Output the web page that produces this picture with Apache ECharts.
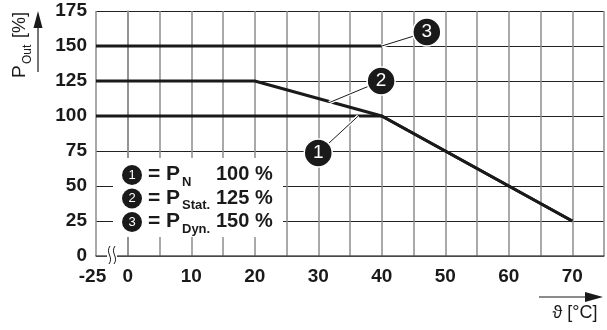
<!DOCTYPE html>
<html>
<head>
<meta charset="utf-8">
<script src="https://cdn.jsdelivr.net/npm/echarts@6/dist/echarts.min.js"></script>
<style>
html,body{margin:0;padding:0;background:#fff;}
#c{width:607px;height:330px;}
</style>
</head>
<body>
<div id="c"></div>
<script>
// ---- data ----
const yTicks = [0, 25, 50, 75, 100, 125, 150, 175];
const xTickLabels = ['-25', '0', '10', '20', '30', '40', '50', '60', '70'];
const curveN    = [[-25, 100], [40, 100], [70, 25]];          // 1 = P_N 100 %
const curveStat = [[-25, 125], [20, 125], [40, 100], [70, 25]]; // 2 = P_Stat. 125 %
const curveDyn  = [[-25, 150], [40, 150]];                     // 3 = P_Dyn. 150 %
const calloutIds   = ['1', '2', '3'];
const calloutLabel = [[30.0, 73.6], [39.9, 125], [47.1, 160]];
const calloutPoint = [[36.3, 100], [31.7, 109.5], [40, 150]];
const legendNums = ['1', '2', '3'];
const legendSubs = ['N', 'Stat.', 'Dyn.'];
const legendPcts = ['100 %', '125 %', '150 %'];

// broken x axis: everything below 0 is drawn at the break position -5 (labelled -25)
const BREAK_POS = -5;
const ax = v => (v < 0 ? BREAK_POS : v);
const toAxis = arr => arr.map(p => [ax(p[0]), p[1]]);

const chart = echarts.init(document.getElementById('c'), null, {renderer: 'canvas'});
const FONT = '"Liberation Sans", Arial, Helvetica, sans-serif';
const INK = '#1a1a1a';

const lineSeries = (data) => ({
  type: 'line', data: toAxis(data), symbol: 'none', silent: true, z: 3,
  lineStyle: {color: INK, width: 3}
});

const leaderData = calloutLabel.map((p, i) => ({coords: [p, calloutPoint[i]]}));

// text helper: place by baseline using 'middle' alignment
const txt = (s, x, baseY, size, weight, align, extra) => Object.assign({
  type: 'text', x: x, y: baseY - 0.36 * size,
  style: {text: s, fill: INK, font: weight + ' ' + size + 'px ' + FONT, align: align || 'left', verticalAlign: 'middle'}
}, extra || {});

// legend graphics
const legendGraphics = [];
legendGraphics.push({type: 'rect', shape: {x: 113, y: 158, width: 170, height: 79}, style: {fill: '#fff'}, z: 10});
legendNums.forEach((n, i) => {
  const by = 182 + i * 23.5; // baseline
  legendGraphics.push({type: 'circle', shape: {cx: 132, cy: by - 7, r: 10}, style: {fill: INK}, z: 11});
  legendGraphics.push({type: 'text', x: 132, y: by - 7, z: 12,
    style: {text: n, fill: '#fff', font: 'normal 13px ' + FONT, align: 'center', verticalAlign: 'middle'}});
  legendGraphics.push(txt('= P', 148, by, 21, 'bold', 'left', {z: 12}));
  legendGraphics.push(txt(legendSubs[i], 182, by + 5, 13, 'bold', 'left', {z: 12}));
  legendGraphics.push(txt(legendPcts[i], 216, by, 20, 'bold', 'left', {z: 12}));
});

const option = {
  backgroundColor: '#fff',
  animation: false,
  grid: {left: 96, right: 2, top: 11, bottom: 74, containLabel: false},
  xAxis: {
    type: 'value', min: -5, max: 75, interval: 5,
    axisLine: {show: true, onZero: false, lineStyle: {color: '#555', width: 1.5}},
    axisTick: {show: false},
    splitLine: {show: true, lineStyle: {color: '#8c8c8c', width: 1.5}},
    axisLabel: {
      margin: 11, color: INK, fontFamily: FONT, fontWeight: 'bold', fontSize: 19,
      showMinLabel: true, showMaxLabel: true,
      rich: {m: {fontFamily: FONT, fontWeight: 'bold', fontSize: 19, color: INK, padding: [0, 7, 0, 0]}},
      formatter: v => {
        if (v === BREAK_POS) return '{m|' + xTickLabels[0] + '}';
        const s = String(v);
        return xTickLabels.indexOf(s) > 0 ? s : '';
      }
    }
  },
  yAxis: {
    type: 'value', min: 0, max: 175, interval: 25,
    axisLine: {show: true, lineStyle: {color: '#8c8c8c', width: 1.5}},
    axisTick: {show: false},
    splitLine: {show: true, lineStyle: {color: '#222', width: 1}},
    axisLabel: {
      margin: 9, color: INK, fontFamily: FONT, fontWeight: 'bold', fontSize: 19,
      formatter: v => (yTicks.indexOf(v) >= 0 ? String(v) : '')
    }
  },
  series: [
    lineSeries(curveN),
    lineSeries(curveStat),
    lineSeries(curveDyn),
    {type: 'lines', coordinateSystem: 'cartesian2d', data: leaderData, silent: true, z: 4,
      lineStyle: {color: '#fff', width: 3.5, opacity: 1}},
    {type: 'lines', coordinateSystem: 'cartesian2d', data: leaderData, silent: true, z: 5,
      lineStyle: {color: INK, width: 1, opacity: 1}},
    {type: 'scatter', data: calloutLabel.map((p, i) => ({value: p, name: calloutIds[i]})),
      symbol: 'circle', symbolSize: 28, silent: true, z: 6,
      itemStyle: {color: INK, borderColor: '#fff', borderWidth: 1.5, opacity: 1},
      label: {show: true, position: 'inside', formatter: p => p.name, color: '#fff',
        fontFamily: FONT, fontSize: 19, fontWeight: 'normal'}}
  ],
  graphic: [
    // y title (rotated, reads bottom to top; baseline on screen x = 27)
    {type: 'group', x: 27, y: 78, rotation: Math.PI / 2, z: 20, children: [
      txt('P', 0, 0, 19, 'normal'),
      txt('Out', 14, 5, 12, 'normal'),
      txt('[%]', 40, 0, 18, 'normal')
    ]},
    {type: 'line', shape: {x1: 38, y1: 72, x2: 38, y2: 20}, style: {stroke: INK, lineWidth: 1.2}, z: 20},
    {type: 'polygon', shape: {points: [[33.5, 28], [38, 11], [42.5, 28]]}, style: {fill: INK}, z: 20},
    // x title
    {type: 'line', shape: {x1: 539, y1: 297, x2: 590, y2: 297}, style: {stroke: INK, lineWidth: 1.2}, z: 20},
    {type: 'polygon', shape: {points: [[585, 292], [603, 297], [585, 302]]}, style: {fill: INK}, z: 20},
    {type: 'text', x: 575, y: 313, z: 20, style: {text: 'ϑ [°C]', fill: INK, font: 'normal 18px ' + FONT, align: 'center', verticalAlign: 'middle'}},
    // axis break
    {type: 'rect', shape: {x: 107, y: 252, width: 10, height: 8}, style: {fill: '#fff'}, z: 20},
    {type: 'bezierCurve', shape: {x1: 110, y1: 246, x2: 109, y2: 264, cpx1: 105, cpy1: 253, cpx2: 114, cpy2: 257}, style: {stroke: INK, lineWidth: 1, fill: null}, z: 21},
    {type: 'bezierCurve', shape: {x1: 115, y1: 246, x2: 114, y2: 264, cpx1: 110, cpy1: 253, cpx2: 119, cpy2: 257}, style: {stroke: INK, lineWidth: 1, fill: null}, z: 21}
  ].concat(legendGraphics)
};
chart.setOption(option);
</script>
</body>
</html>
